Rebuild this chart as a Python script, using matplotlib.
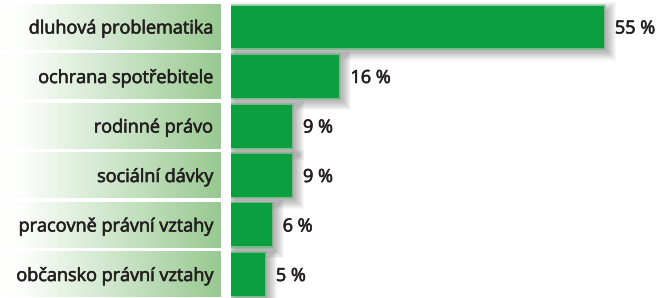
import matplotlib
matplotlib.use('Agg')
import matplotlib.pyplot as plt
import matplotlib.patheffects as pe
import numpy as np
from matplotlib.colors import LinearSegmentedColormap
from matplotlib.patches import Rectangle

categories = ['dluhová problematika', 'ochrana spotřebitele', 'rodinné právo',
              'sociální dávky', 'pracovně právní vztahy', 'občansko právní vztahy']
values = [55, 16, 9, 9, 6, 5]
value_labels = ['55 %', '16 %', '9 %', '9 %', '6 %', '5 %']

W, H = 658, 298
bar_color = '#0b9f40'
text_color = '#231f20'
plt.rcParams['font.family'] = ['Open Sans', 'DejaVu Sans']
# a touch of stroke to get a medium weight look
medium = [pe.withStroke(linewidth=0.45, foreground=text_color)]

fig = plt.figure(figsize=(W / 100, H / 100), dpi=100)

# rows: centre of first row at 27 px from top, pitch 49.5 px
pitch = 49.5
y_top = -27 / pitch
y_bot = (H - 27) / pitch
ylim = (y_bot, y_top)

# label boxes with white -> green gradient
lab_ax = fig.add_axes([0, 0, 221 / W, 1])
lab_ax.axis('off')
cmap = LinearSegmentedColormap.from_list('g', [(0, '#ffffff'), (0.1, '#fcfefb'), (1, '#98c991')])
grad = np.linspace(0, 1, 256).reshape(1, -1)
box_h = 46 / pitch
for i, cat in enumerate(categories):
    lab_ax.imshow(grad, cmap=cmap, aspect='auto',
                  extent=(0, 1, i + box_h / 2, i - box_h / 2), zorder=1)
    lab_ax.text(0.962, i + 0.03, cat, ha='right', va='center',
                fontsize=13, color=text_color, zorder=2, path_effects=medium)
lab_ax.set_xlim(0, 1)
lab_ax.set_ylim(*ylim)

# bars
px_per_unit = 6.78
bar_ax = fig.add_axes([231 / W, 0, (W - 231) / W, 1])
bar_ax.set_xlim(0, (W - 231) / px_per_unit)
bar_ax.set_ylim(*ylim)
bar_ax.axis('off')

bar_h = 43 / pitch
dx = 1 / px_per_unit
dy = 1 / pitch
for i, v in enumerate(values):
    # soft shadow
    for k in range(9):
        bar_ax.add_patch(Rectangle((-k * dx + 4 * dx, i - bar_h / 2 - k * dy + 4 * dy),
                                   v + 2 * k * dx, bar_h + 2 * k * dy,
                                   facecolor='#000000', alpha=0.03, lw=0, zorder=1))
    # blurred edge
    for k in range(3):
        bar_ax.add_patch(Rectangle((-k * dx, i - bar_h / 2 - k * dy),
                                   v + 2 * k * dx, bar_h + 2 * k * dy,
                                   facecolor='#3fb35f', alpha=0.3, lw=0, zorder=2))
bar_ax.barh(range(len(values)), values, height=bar_h, color=bar_color, zorder=3)
for i, (v, lab) in enumerate(zip(values, value_labels)):
    bar_ax.text(v + 11 * dx, i + 0.03, lab, ha='left', va='center',
                fontsize=13, color=text_color, zorder=4, path_effects=medium)

fig.savefig('out.png', dpi=100)
